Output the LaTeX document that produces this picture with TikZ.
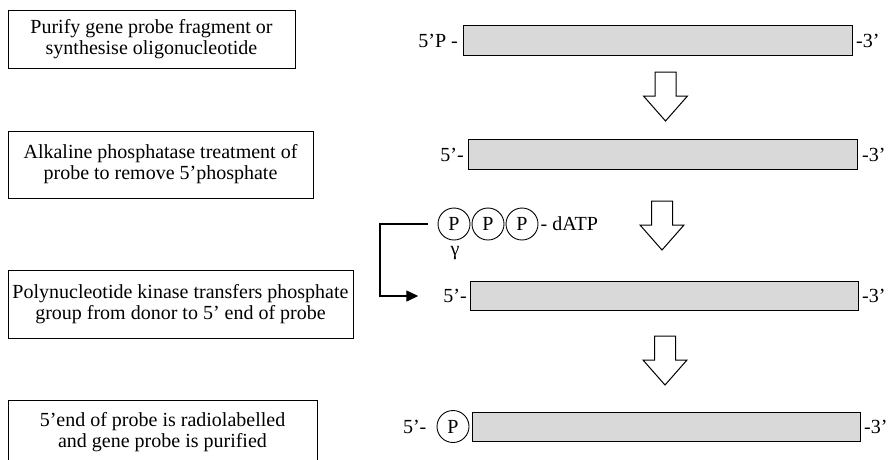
\documentclass[tikz,border=0pt]{standalone}
\usepackage{fontspec}
\setmainfont{Liberation Serif}
\usetikzlibrary{arrows.meta,calc}
\definecolor{bargray}{HTML}{D9D9D9}
\begin{document}
\begin{tikzpicture}[x=1pt,y=-1pt,
  every node/.style={font=\fontsize{20}{21}\selectfont, inner sep=0pt},
  stepbox/.style={draw, line width=1pt, align=center},
  strand/.style={draw, line width=1pt, fill=bargray, minimum height=30pt, anchor=north west},
  phos/.style={draw, circle, line width=0.9pt, minimum size=32pt},
  hollow/.style={draw, line width=1pt, fill=white},
  feed/.style={line width=1.4pt, -{Triangle[length=12pt,width=11pt]}},
  downarrow/.pic={\draw[hollow] (-10.5,0) -- (10.5,0) -- (10.5,24) -- (22,24) -- (0,49) -- (-22,24) -- (-10.5,24) -- cycle;}]
\useasboundingbox (0,0) rectangle (889,459);

% step boxes
\node[stepbox, minimum width=287pt, minimum height=58pt] (s1) at (151.5,39) {Purify gene probe fragment or\\synthesise oligonucleotide};
\node[stepbox, minimum width=305pt, minimum height=67pt] (s2) at (160.5,164.5) {Alkaline phosphatase treatment of\\probe to remove 5’phosphate};
\node[stepbox, minimum width=345pt, minimum height=68pt] (s3) at (180.5,304) {Polynucleotide kinase transfers phosphate\\group from donor to 5’ end of probe};
\node[stepbox, minimum width=309pt, minimum height=64pt] (s4) at (162.5,432) {5’end of probe is radiolabelled\\and gene probe is purified};

% strands
\node[strand, minimum width=389pt] (b1) at (463,25) {};
\node[strand, minimum width=389pt] (b2) at (468,139) {};
\node[strand, minimum width=388pt, minimum height=29pt] (b3) at (470,281) {};
\node[strand, minimum width=388pt, minimum height=29pt] (b4) at (472,412) {};

\node[anchor=east] (l1) at ([xshift=-5pt]b1.west) {5’P -};
\node[anchor=east] (l2) at ([xshift=-4pt]b2.west) {5’-};
\node[anchor=east] (l3) at ([xshift=-3pt]b3.west) {5’-};
\node[phos] (p4) at (453,426.5) {P};
\node[anchor=east] (l4) at ([xshift=-10pt]p4.west) {5’-};

\node[anchor=west] (r1) at ([xshift=3pt]b1.east) {-3’};
\node[anchor=west] (r2) at ([xshift=4pt]b2.east) {-3’};
\node[anchor=west] (r3) at ([xshift=3pt]b3.east) {-3’};
\node[anchor=west] (r4) at ([xshift=3pt]b4.east) {-3’};

% donor dATP
\node[phos] (g1) at (454,224) {P};
\node[phos] (g2) at (488,224) {P};
\node[phos] (g3) at (522,224) {P};
\node[anchor=west] (datp) at ([xshift=2pt]g3.east) {- dATP};
\node (gamma) at (455,253) {γ};

% transfer connector
\coordinate (bs) at ([xshift=-10pt]g1.west);
\coordinate (corner) at (380,224);
\coordinate (bt) at ([xshift=-25pt]l3.west);
\draw[feed] (bs) -- (corner) |- (bt);

% hollow arrows
\pic at (665.5,72) {downarrow};
\pic at (662,201) {downarrow};
\pic at (665,336) {downarrow};
\end{tikzpicture}
\end{document}
